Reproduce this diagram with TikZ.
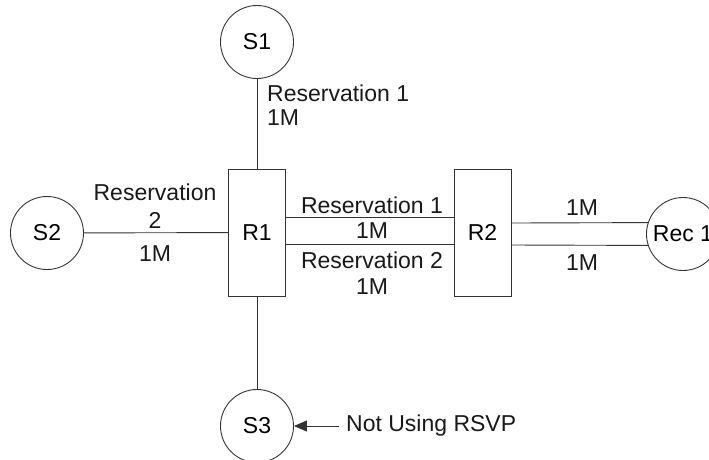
\documentclass[tikz,border=0pt]{standalone}
\usepackage{fontspec}
\setmainfont{Liberation Sans}
\usetikzlibrary{arrows.meta}

\begin{document}
\begin{tikzpicture}[
    x=1pt, y=-1pt,
    font=\fontsize{23}{24}\selectfont,
    host/.style={draw=black!80, line width=0.9pt, circle, minimum size=73pt, inner sep=0pt},
    router/.style={draw=black!80, line width=0.9pt, rectangle, minimum width=57pt, minimum height=127pt, inner sep=0pt},
    link/.style={line width=0.9pt, black!80},
    lbl/.style={inner sep=0pt, text=black!90},
  ]
  \useasboundingbox (0,0) rectangle (709,459);

  \node[host]   (s1)  at (257,42)    {S1};
  \node[host]   (s2)  at (47,233)    {S2};
  \node[host]   (s3)  at (257,426)   {S3};
  \node[host]   (rec) at (683,234)   {Rec 1};
  \node[router] (r1)  at (257,232.5) {R1};
  \node[router] (r2)  at (482.5,232.5) {R2};

  % Links
  \draw[link] (s1) -- (r1);
  \draw[link] (s2) -- (r1);
  \draw[link] (r1) -- (s3);
  \draw[link] ([yshift=15.5pt]r1.east) -- ([yshift=15.5pt]r2.west);
  \draw[link] ([yshift=-11.5pt]r1.east) -- ([yshift=-11.5pt]r2.west);
  \draw[link] ([yshift=9.5pt]r2.east) -- (rec.162);
  \draw[link] ([yshift=-12.5pt]r2.east) -- (rec.198);

  % Reservations
  \node[lbl, anchor=west, align=left] (ls1) at (267,105.5) {Reservation 1\\1M};
  \node[lbl, align=center] (ls2) at (155,206) {Reservation\\[4pt]2};
  \node[lbl] (ls2bw) at (155,254) {1M};
  \node[lbl] (lr1) at (372,205) {Reservation 1};
  \node[lbl] (lr1bw) at (372,231) {1M};
  \node[lbl, align=center] (lr2) at (372,273) {Reservation 2\\[2pt]1M};
  \node[lbl] (lrecup) at (582,208) {1M};
  \node[lbl] (lrecdn) at (582,263) {1M};

  % Non-RSVP sender
  \node[lbl, anchor=west, inner xsep=7pt] (norsvp) at (339,426) {Not Using RSVP};
  \draw[link, -{Triangle[length=13pt,width=11pt]}] (norsvp.west) -- (s3.east);
\end{tikzpicture}
\end{document}
